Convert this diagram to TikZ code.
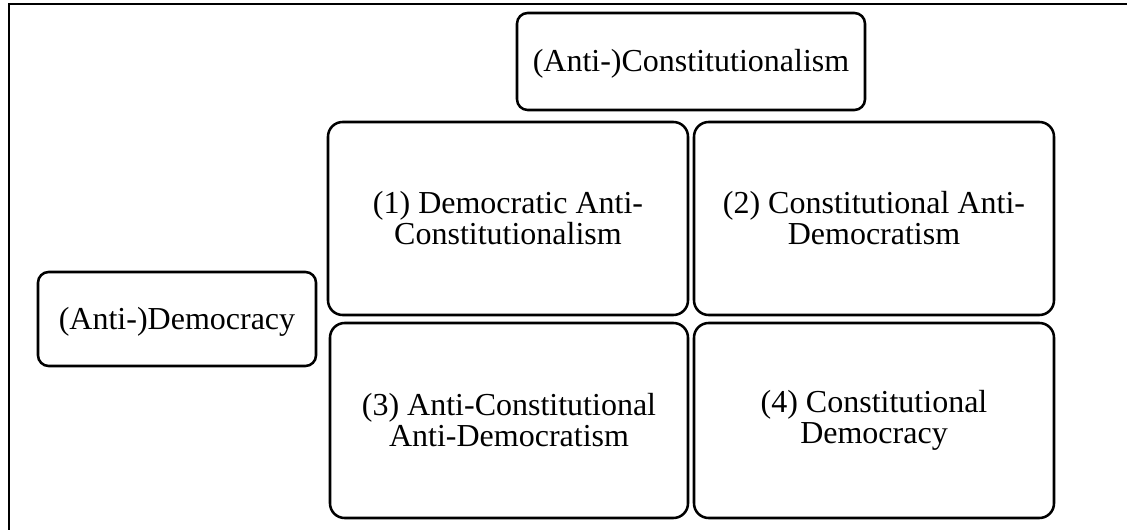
\documentclass[tikz,border=0pt]{standalone}
\usepackage{fontspec}
\setmainfont{Liberation Serif}
\begin{document}
\begin{tikzpicture}[x=0.75pt,y=-0.75pt,
  bigbox/.style={draw=black, line width=1.9pt, rounded corners=11pt, align=center,
    font=\fontsize{24}{23.3}\selectfont, inner sep=0pt},
  smallbox/.style={draw=black, line width=1.9pt, rounded corners=8pt, align=center,
    font=\fontsize{24}{23.3}\selectfont, inner sep=0pt, text depth=0.1em},
  frameline/.style={draw=black, line width=1.8pt}]
\useasboundingbox (0,0) rectangle (1127,530);
\coordinate (ftr) at (1127,4);
\coordinate (ftl) at (9,4);
\coordinate (fbl) at (9,530);
\draw[frameline] (ftr) -- (ftl) -- (fbl);
\node[smallbox, minimum width=348*0.75pt, minimum height=97*0.75pt] (constit) at (691,61.5) {(Anti-)Constitutionalism};
\node[smallbox, minimum width=278*0.75pt, minimum height=94*0.75pt] (democ) at (177,319) {(Anti-)Democracy};
\node[bigbox, minimum width=360*0.75pt, minimum height=193*0.75pt] (q1) at (508,218.5) {(1) Democratic Anti-\\Constitutionalism};
\node[bigbox, minimum width=360*0.75pt, minimum height=193*0.75pt] (q2) at (874,218.5) {(2) Constitutional Anti-\\Democratism};
\node[bigbox, minimum width=358*0.75pt, minimum height=195*0.75pt] (q3) at (509,420.5) {(3) Anti-Constitutional\\Anti-Democratism};
\node[bigbox, minimum width=360*0.75pt, minimum height=195*0.75pt] (q4) at (874,420.5) {(4) Constitutional\\Democracy};
\end{tikzpicture}
\end{document}
